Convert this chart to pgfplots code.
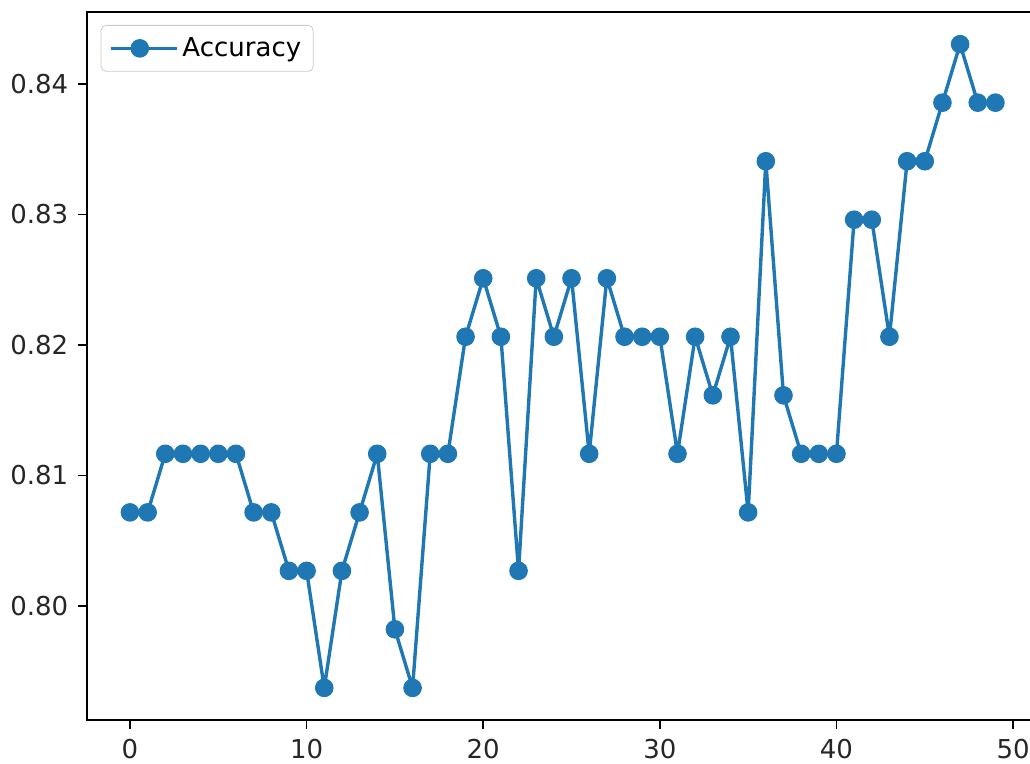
\documentclass[border=0pt]{standalone}
\usepackage{fontspec}
\setmainfont{DejaVu Sans}
\usepackage{pgfplots}
\pgfplotsset{compat=1.18}
\definecolor{C0}{HTML}{1F77B4}
\begin{document}
\begin{tikzpicture}
\begin{axis}[
  name=ax,
  scale only axis,
  width=476pt, height=354pt,
  xmin=-2.45, xmax=51.45,
  ymin=0.79126, ymax=0.84552,
  xtick={0,10,20,30,40,50},
  ytick={0.80,0.81,0.82,0.83,0.84},
  yticklabel style={xshift=-1.2pt, /pgf/number format/.cd,fixed,fixed zerofill,precision=2},
  xticklabel style={yshift=-1.5pt},
  /pgf/number format/assume math mode=true,
  tick label style={font=\fontsize{13}{15}\selectfont, black!85},
  tick align=outside,
  major tick length=4.5pt,
  every tick/.style={black, line width=0.9pt},
  axis line style={line width=0.9pt},
  xtick pos=bottom, ytick pos=left,
  legend style={at={(0,1)}, anchor=north west, xshift=7pt, yshift=-6.5pt,
    draw=black!20, rounded corners=2.5pt, fill=white, fill opacity=0.8, text opacity=1,
    font=\fontsize{13}{15}\selectfont, inner xsep=4pt, inner ysep=4pt},
  legend cell align=left,
  legend image code/.code={\draw[mark repeat=2,mark phase=2,#1,draw opacity=1,fill opacity=1] plot coordinates {(0pt,0pt) (14.5pt,0pt) (29pt,0pt)};\path (0pt,0pt) -- (33pt,0pt);},
]
\addplot[color=C0, line width=1.7pt, line join=round, mark=*, mark size=4.4pt, mark options={solid, fill=C0, draw=C0, line width=0.5pt}] coordinates {
(0,0.80717) (1,0.80717) (2,0.81166) (3,0.81166) (4,0.81166) (5,0.81166) (6,0.81166)
(7,0.80717) (8,0.80717) (9,0.80269) (10,0.80269) (11,0.79372) (12,0.80269) (13,0.80717)
(14,0.81166) (15,0.79821) (16,0.79372) (17,0.81166) (18,0.81166) (19,0.82063) (20,0.82511)
(21,0.82063) (22,0.80269) (23,0.82511) (24,0.82063) (25,0.82511) (26,0.81166) (27,0.82511)
(28,0.82063) (29,0.82063) (30,0.82063) (31,0.81166) (32,0.82063) (33,0.81614) (34,0.82063)
(35,0.80717) (36,0.83408) (37,0.81614) (38,0.81166) (39,0.81166) (40,0.81166) (41,0.82960)
(42,0.82960) (43,0.82063) (44,0.83408) (45,0.83408) (46,0.83857) (47,0.84305) (48,0.83857)
(49,0.83857)
};
\addlegendentry{Accuracy}
\end{axis}
\pgfresetboundingbox
\path[use as bounding box] (ax.south west) ++(-43.35pt,-22pt) rectangle ++(515pt,382pt);
\end{tikzpicture}
\end{document}
